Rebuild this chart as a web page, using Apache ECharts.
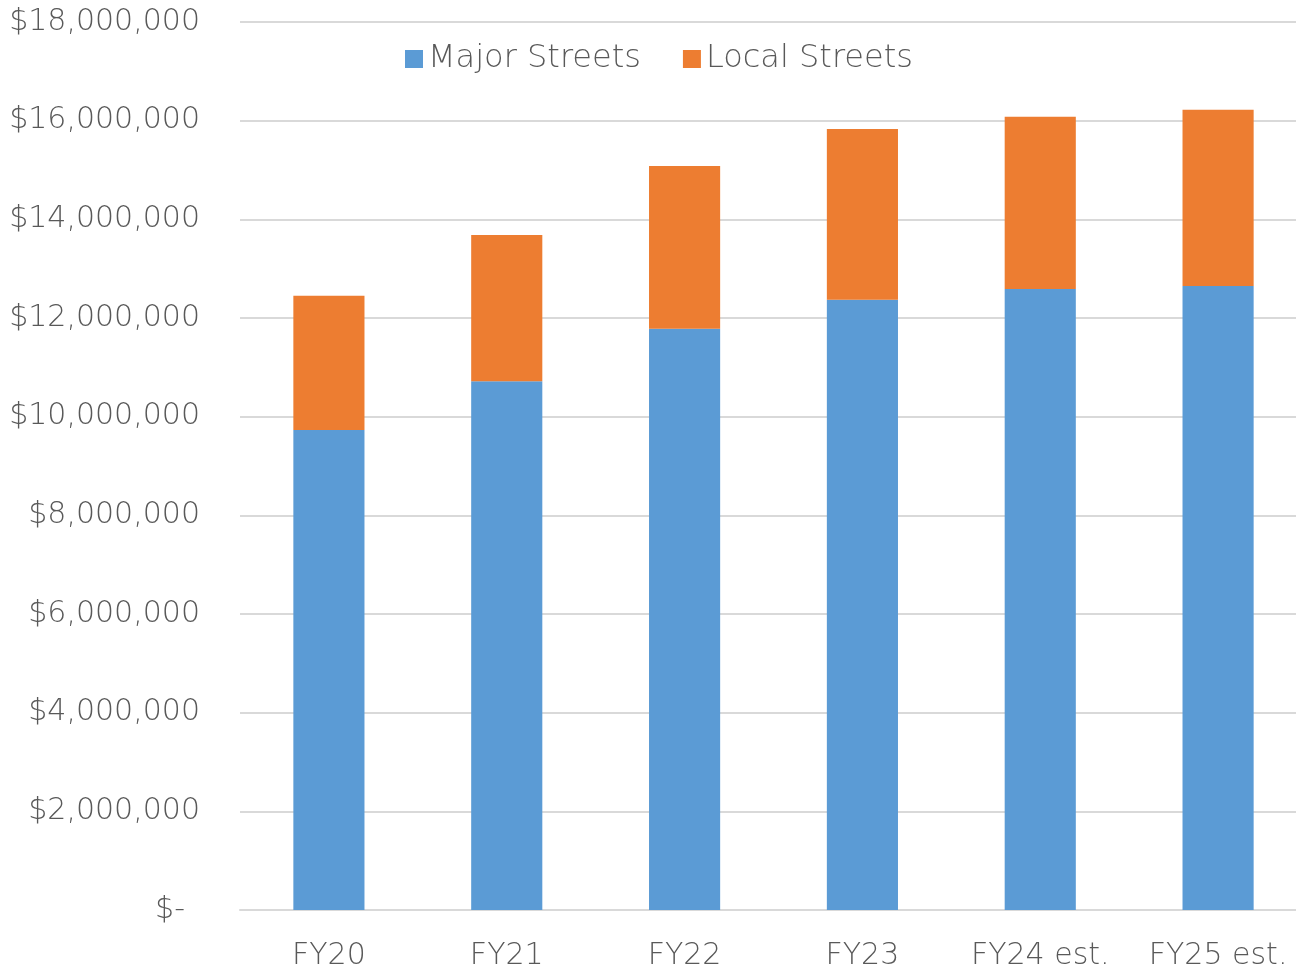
<!DOCTYPE html>
<html>
<head>
<meta charset="utf-8">
<script src="https://cdn.jsdelivr.net/npm/echarts@6/dist/echarts.min.js"></script>
<style>
html,body{margin:0;padding:0;background:#fff;}
#chart{width:1296px;height:967px;}
</style>
</head>
<body>
<div id="chart"></div>
<script>
const categories = ['FY20', 'FY21', 'FY22', 'FY23', 'FY24 est.', 'FY25 est.'];
const majorStreets = [9730000, 10720000, 11780000, 12370000, 12590000, 12650000];
const localStreets = [2720000, 2960000, 3300000, 3460000, 3490000, 3570000];
const seriesNames = ['Major Streets', 'Local Streets'];

const chart = echarts.init(document.getElementById('chart'));
const fontFamily = '"DejaVu Sans", sans-serif';
const fontWeight = 200;
const textColor = '#595959';

function fmt(v) {
  if (v === 0) return '{z|$-}';
  return '$' + v.toLocaleString('en-US');
}

chart.setOption({
  animation: false,
  color: ['#5B9BD5', '#ED7D31'],
  grid: { left: 240, width: 1067, top: 22, bottom: 57, containLabel: false, outerBoundsMode: 'none' },
  legend: {
    data: seriesNames,
    top: 38,
    left: 400,
    itemWidth: 18,
    itemHeight: 18,
    itemGap: 42,
    icon: 'rect',
    textStyle: { fontFamily: fontFamily, fontWeight: fontWeight, fontSize: 32, color: textColor }
  },
  xAxis: {
    type: 'category',
    data: categories,
    axisTick: { show: false },
    axisLine: { lineStyle: { color: '#d9d9d9', width: 2 } },
    axisLabel: { fontFamily: fontFamily, fontWeight: fontWeight, fontSize: 30, color: textColor, margin: 31, interval: 0, hideOverlap: false }
  },
  yAxis: {
    type: 'value',
    min: 0,
    max: 18000000,
    interval: 2000000,
    axisLine: { show: false },
    axisTick: { show: false },
    splitLine: { lineStyle: { color: '#d9d9d9', width: 2 } },
    axisLabel: {
      fontFamily: fontFamily, fontWeight: fontWeight, fontSize: 30, color: textColor, margin: 40, formatter: fmt,
      rich: { z: { fontFamily: fontFamily, fontWeight: fontWeight, fontSize: 30, color: textColor, padding: [0, 15, 0, 0] } }
    }
  },
  series: [
    { name: seriesNames[0], type: 'bar', stack: 'total', data: majorStreets, barWidth: '40%' },
    { name: seriesNames[1], type: 'bar', stack: 'total', data: localStreets, barWidth: '40%' }
  ]
});
</script>
</body>
</html>
